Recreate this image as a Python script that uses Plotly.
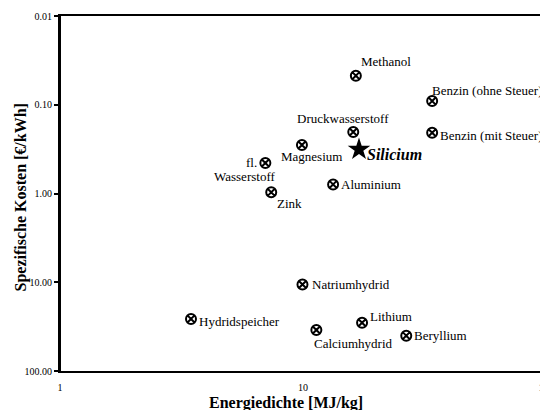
import numpy as np
import plotly.graph_objects as go

# Data (energy density MJ/kg, specific cost €/kWh)
names = ["Methanol", "Benzin (ohne Steuer)", "Druckwasserstoff", "Benzin (mit Steuer)",
         "Magnesium", "Aluminium", "fl. Wasserstoff", "Zink", "Natriumhydrid",
         "Lithium", "Calciumhydrid", "Beryllium", "Hydridspeicher"]
energy = [16.5, 34.0, 16.1, 34.0, 9.9, 13.3, 7.0, 7.4, 9.95, 17.5, 11.35, 26.6, 3.46]
cost = [0.047, 0.091, 0.203, 0.207, 0.284, 0.79, 0.453, 0.97, 10.6, 28.6, 34.5, 40.0, 25.9]

star_name = "Silicium"
star_energy = [17.0]
star_cost = [0.318]

x_ticks = [1, 10, 100]
x_ticktext = ["1", "10", "100"]
y_ticks = [0.01, 0.1, 1, 10, 100]
y_ticktext = ["0.01", "0.10", "1.00", "10.00", "100.00"]

# label placement (anchor, xshift px, yshift px)
label_style = {
    "Methanol": [("Methanol", "left", 3, 14)],
    "Benzin (ohne Steuer)": [("Benzin (ohne Steuer)", "left", -2, 11)],
    "Druckwasserstoff": [("Druckwasserstoff", "center", -10, 14)],
    "Benzin (mit Steuer)": [("Benzin (mit Steuer)", "left", 6, -3)],
    "Magnesium": [("Magnesium", "center", 10, -12)],
    "Aluminium": [("Aluminium", "left", 6, 0)],
    "fl. Wasserstoff": [("fl.", "right", -6, 0), ("Wasserstoff", "center", -21, -14)],
    "Zink": [("Zink", "center", 18, -11)],
    "Natriumhydrid": [("Natriumhydrid", "left", 8, 0)],
    "Lithium": [("Lithium", "left", 6, 6)],
    "Calciumhydrid": [("Calciumhydrid", "center", 37, -14)],
    "Beryllium": [("Beryllium", "left", 6, 0)],
    "Hydridspeicher": [("Hydridspeicher", "left", 6, -3)],
}

font_family = "Liberation Serif"

fig = go.Figure()
fig.add_trace(go.Scatter(
    x=energy, y=cost, mode="markers",
    marker=dict(symbol="circle-x-open", size=10, color="black", line=dict(width=2, color="black")),
    hoverinfo="skip", showlegend=False))
fig.add_trace(go.Scatter(
    x=star_energy, y=star_cost, mode="markers",
    marker=dict(symbol="star", size=17, color="black", line=dict(width=0)),
    hoverinfo="skip", showlegend=False))

annotations = []
for n, xv, yv in zip(names, energy, cost):
    for txt, anch, xs, ys in label_style[n]:
        annotations.append(dict(
            x=np.log10(xv), y=np.log10(yv), xref="x", yref="y", text=txt, showarrow=False,
            xanchor=anch, yanchor="middle", xshift=xs, yshift=ys,
            font=dict(family=font_family, size=13, color="black")))
annotations.append(dict(
    x=np.log10(star_energy[0]), y=np.log10(star_cost[0]), xref="x", yref="y",
    text="<b><i>" + star_name + "</i></b>", showarrow=False, xanchor="left", yanchor="middle",
    xshift=6, yshift=-5, font=dict(family=font_family, size=16, color="black")))

# axis titles
annotations.append(dict(x=0.5, y=0, xref="paper", yref="paper", xshift=-17, yshift=-32,
                        yanchor="middle", xanchor="center",
                        text="<b>Energiedichte [MJ/kg]</b>", showarrow=False,
                        font=dict(family=font_family, size=16, color="black")))
annotations.append(dict(x=0, y=0.5, xref="paper", yref="paper", xshift=-40, yshift=-4,
                        xanchor="center", yanchor="middle",
                        text="<b>Spezifische Kosten [€/kWh]</b>", showarrow=False, textangle=-90,
                        font=dict(family=font_family, size=16, color="black")))

# page body has an 8px default margin; size the figure to fit the window
fig.update_layout(
    width=540, height=402,
    margin=dict(l=52, r=2, t=8, b=39, autoexpand=False),
    paper_bgcolor="white", plot_bgcolor="white",
    font=dict(family=font_family, color="black"),
    annotations=annotations,
    shapes=[
        dict(type="line", xref="x", yref="paper", x0=1, x1=1, y0=0, y1=1,
             line=dict(color="black", width=2)),
        dict(type="line", xref="paper", yref="y", x0=0, x1=1, y0=0, y1=0,
             line=dict(color="black", width=2)),
    ],
)
fig.update_xaxes(type="log", range=[0, 2], tickvals=x_ticks, ticktext=x_ticktext,
                 showgrid=False, zeroline=False, showline=True, mirror=True, automargin=False,
                 linecolor="black", linewidth=2, ticks="outside", ticklen=6,
                 tickcolor="rgba(0,0,0,0)", ticklabeloverflow="allow",
                 tickfont=dict(family=font_family, size=10, color="black"))
fig.update_yaxes(type="log", range=[2, -2], tickvals=y_ticks, ticktext=y_ticktext,
                 showgrid=False, zeroline=False, showline=True, mirror=True, automargin=False,
                 linecolor="black", linewidth=2, ticks="outside", ticklen=4,
                 tickwidth=2, tickcolor="black",
                 tickfont=dict(family=font_family, size=10, color="black"))

fig.write_html("out.html")
